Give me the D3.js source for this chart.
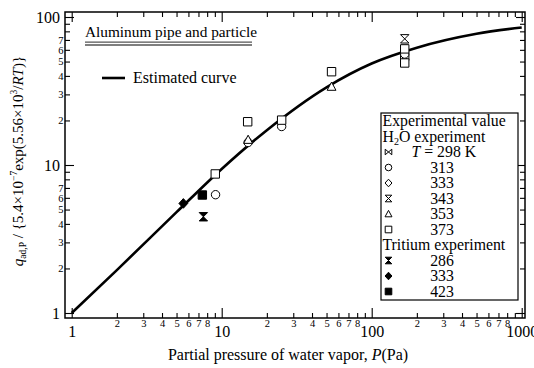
<!DOCTYPE html>
<html>
<head>
<meta charset="utf-8">
<script src="https://cdn.jsdelivr.net/npm/d3@7/dist/d3.min.js"></script>
<style>
  html, body { margin: 0; padding: 0; background: #fff; }
  svg { display: block; }
  svg text { font-family: "Liberation Serif", "DejaVu Serif", serif; fill: #000; }
</style>
</head>
<body>
<svg id="chart" width="534" height="368"></svg>
<script>
// Estimated adsorption curve (partial pressure P in Pa, normalised q)
const curveP = [1, 2, 5, 10, 20, 50, 100, 200, 500, 1000];
const curveQ = [1, 1.95, 4.8, 9.4, 17.2, 33.5, 48.5, 62, 77, 85];

// H2O experiment, aluminum pipe and particle: [P, q]
const h2o298 = [[166, 53.8]];
const h2o313 = [[9.1, 6.3], [15, 14.2], [25.1, 18.2], [166, 56.2]];
const h2o333 = [];
const h2o343 = [[166, 71.2]];
const h2o353 = [[15, 14.8], [54, 33.8]];
const h2o373 = [[9.06, 8.7], [14.9, 19.6], [25.1, 20.1], [54, 42.7], [166, 60.9], [166, 48.9]];

// Tritium experiment: [P, q]
const tri286 = [[7.55, 4.47]];
const tri333 = [[5.55, 5.5]];
const tri423 = [[7.43, 6.27]];

// Axis ticks
const xMajor = [1, 10, 100, 1000];
const yMajor = [1, 10, 100];
const xMinorLabels = [2, 3, 4, 5, 6, 7, 8];
const yMinorLabels = [2, 3, 4, 5, 6, 7];

const series = [
  { label: "298 K", sym: "bowtie", fill: false, pts: h2o298 },
  { label: "313", sym: "circle", fill: false, pts: h2o313 },
  { label: "333", sym: "diamond", fill: false, pts: h2o333 },
  { label: "343", sym: "hourglass", fill: false, pts: h2o343 },
  { label: "353", sym: "triangle", fill: false, pts: h2o353 },
  { label: "373", sym: "square", fill: false, pts: h2o373 },
  { label: "286", sym: "hourglass", fill: true, pts: tri286 },
  { label: "333", sym: "diamond", fill: true, pts: tri333 },
  { label: "423", sym: "square", fill: true, pts: tri423 }
];

const FONT = "Liberation Serif, DejaVu Serif, serif";
const svg = d3.select("#chart");
const frame = { left: 65, right: 525, top: 12, bottom: 318 };

const x = d3.scaleLog().domain([1, 1000]).range([71.7, 521.7]);
const y = d3.scaleLog().domain([1, 100]).range([313, 17]);

// minor tick values for each decade
function minors(lo, hi) {
  const out = [];
  for (let d = lo; d < hi; d *= 10) for (let k = 2; k <= 9; k++) out.push(k * d);
  return out;
}
const xMinor = minors(1, 1000);
const yMinor = minors(1, 100);
const lead = v => +String(v)[0];

// symbol path generator, s = half width
function symPath(type, s) {
  switch (type) {
    case "square": return `M${-s},${-s}H${s}V${s}H${-s}Z`;
    case "diamond": return `M0,${-s * 1.15}L${s * 1.05},0L0,${s * 1.15}L${-s * 1.05},0Z`;
    case "triangle": return `M0,${-s * 1.1}L${s * 1.05},${s * 0.85}L${-s * 1.05},${s * 0.85}Z`;
    case "hourglass": return `M${-s},${-s}H${s}L${-s},${s}H${s}Z`;
    case "bowtie": return `M${-s},${-s * 0.85}L${s},${s * 0.85}V${-s * 0.85}L${-s},${s * 0.85}Z`;
    case "circle": {
      const p = d3.path(); p.moveTo(s, 0); p.arc(0, 0, s, 0, 2 * Math.PI); p.closePath();
      return p.toString();
    }
  }
}

// ---- axes (ticks point into the plot) ----
function styleAxis(g) {
  g.attr("font-family", FONT);
  g.select(".domain").remove();
  g.selectAll("line").attr("stroke", "#000").attr("stroke-width", 1.1);
  g.selectAll("text").attr("fill", "#000").attr("font-family", FONT);
}

// bottom
svg.append("g").attr("transform", `translate(0,${frame.bottom})`)
  .call(d3.axisBottom(x).tickValues(xMinor).tickSizeInner(-5).tickSizeOuter(0).tickPadding(2)
    .tickFormat(v => xMinorLabels.includes(lead(v)) ? lead(v) : ""))
  .call(styleAxis).call(g => g.selectAll("text").attr("font-size", 10.5));
svg.append("g").attr("transform", `translate(0,${frame.bottom})`)
  .call(d3.axisBottom(x).tickValues(xMajor).tickSizeInner(-10).tickSizeOuter(0).tickPadding(8)
    .tickFormat(d3.format("d")))
  .call(styleAxis).call(g => g.selectAll("text").attr("font-size", 16));

// left
svg.append("g").attr("transform", `translate(${frame.left},0)`)
  .call(d3.axisLeft(y).tickValues(yMinor).tickSizeInner(-5).tickSizeOuter(0).tickPadding(1.5)
    .tickFormat(v => yMinorLabels.includes(lead(v)) ? lead(v) : ""))
  .call(styleAxis).call(g => g.selectAll("text").attr("font-size", 10.5));
svg.append("g").attr("transform", `translate(${frame.left},0)`)
  .call(d3.axisLeft(y).tickValues(yMajor).tickSizeInner(-9).tickSizeOuter(0).tickPadding(5)
    .tickFormat(d3.format("d")))
  .call(styleAxis).call(g => g.selectAll("text").attr("font-size", 16));

// top
svg.append("g").attr("transform", `translate(0,${frame.top})`)
  .call(d3.axisTop(x).tickValues(xMinor).tickSizeInner(-5).tickSizeOuter(0).tickFormat(""))
  .call(styleAxis);
svg.append("g").attr("transform", `translate(0,${frame.top})`)
  .call(d3.axisTop(x).tickValues(xMajor).tickSizeInner(-10).tickSizeOuter(0).tickFormat(""))
  .call(styleAxis);

// right
svg.append("g").attr("transform", `translate(${frame.right},0)`)
  .call(d3.axisRight(y).tickValues(yMinor).tickSizeInner(-5).tickSizeOuter(0).tickFormat(""))
  .call(styleAxis);
svg.append("g").attr("transform", `translate(${frame.right},0)`)
  .call(d3.axisRight(y).tickValues(yMajor).tickSizeInner(-9).tickSizeOuter(0).tickFormat(""))
  .call(styleAxis);

// frame
svg.append("rect")
  .attr("x", frame.left).attr("y", frame.top)
  .attr("width", frame.right - frame.left).attr("height", frame.bottom - frame.top)
  .attr("fill", "none").attr("stroke", "#000").attr("stroke-width", 1.5);

// ---- estimated curve ----
const line = d3.line().x(d => x(d[0])).y(d => y(d[1])).curve(d3.curveMonotoneX);
svg.append("path")
  .datum(curveP.map((p, i) => [p, curveQ[i]]))
  .attr("d", line)
  .attr("fill", "none").attr("stroke", "#000").attr("stroke-width", 2.6);

// ---- data points ----
series.forEach(s => {
  svg.append("g").selectAll("path").data(s.pts).join("path")
    .attr("transform", d => `translate(${x(d[0])},${y(d[1])})`)
    .attr("d", symPath(s.sym, 4.2))
    .attr("fill", s.fill ? "#000" : "#fff")
    .attr("stroke", "#000").attr("stroke-width", 1);
});

// helper for serif text
function txt(parent, xx, yy, size) {
  return parent.append("text").attr("x", xx).attr("y", yy)
    .attr("font-size", size).attr("font-family", FONT);
}

// ---- header text ----
txt(svg, 85, 37, 15.3).text("Aluminum pipe and particle");
[42.2, 45].forEach(yy => svg.append("line")
  .attr("x1", 85).attr("x2", 252).attr("y1", yy).attr("y2", yy)
  .attr("stroke", "#555").attr("stroke-width", 1.3));

svg.append("line").attr("x1", 102).attr("x2", 125).attr("y1", 78).attr("y2", 78)
  .attr("stroke", "#000").attr("stroke-width", 2.6);
txt(svg, 133, 83, 16).text("Estimated curve");

// ---- legend box ----
const lg = svg.append("g");
lg.append("rect").attr("x", 381).attr("y", 113).attr("width", 137).attr("height", 187)
  .attr("fill", "#fff").attr("stroke", "#000").attr("stroke-width", 1.2);
const rowY = i => 121 + i * 15.5;
const fs = 15.8;
txt(lg, 382.5, rowY(0) + 5, fs).text("Experimental value");
const h = txt(lg, 382.5, rowY(1) + 5, fs);
h.append("tspan").text("H");
h.append("tspan").attr("font-size", 10).attr("dy", 3).text("2");
h.append("tspan").attr("dy", -3).text("O experiment");
txt(lg, 382.5, rowY(8) + 5, fs).text("Tritium experiment");

series.forEach((s, i) => {
  const row = i < 6 ? i + 2 : i + 3;
  const cy = rowY(row);
  lg.append("path").attr("transform", `translate(388.5,${cy})`)
    .attr("d", symPath(s.sym, 3.3))
    .attr("fill", s.fill ? "#000" : "#fff").attr("stroke", "#000").attr("stroke-width", 1);
  if (i === 0) {
    const t = txt(lg, 411.5, cy + 5, fs);
    t.append("tspan").attr("font-style", "italic").text("T");
    t.append("tspan").text(" = " + s.label);
  } else {
    txt(lg, 442, cy + 5, fs).attr("text-anchor", "middle").text(s.label);
  }
});

// ---- axis titles ----
const xt = txt(svg, 288, 360, 16).attr("text-anchor", "middle");
xt.append("tspan").text("Partial pressure of water vapor, ");
xt.append("tspan").attr("font-style", "italic").text("P");
xt.append("tspan").text("(Pa)");

const yt = svg.append("text").attr("transform", "translate(23,161) rotate(-90)")
  .attr("font-size", 15).attr("font-family", FONT).attr("text-anchor", "middle");
yt.append("tspan").attr("font-style", "italic").text("q");
yt.append("tspan").attr("font-size", 9.5).attr("dy", 3).text("ad,P");
yt.append("tspan").attr("dy", -3).text(" / {5.4\u00d710");
yt.append("tspan").attr("font-size", 9.5).attr("dy", -6).text("\u22127");
yt.append("tspan").attr("dy", 6).text("exp(5.56\u00d710");
yt.append("tspan").attr("font-size", 9.5).attr("dy", -6).text("3");
yt.append("tspan").attr("dy", 6).text("/");
yt.append("tspan").attr("font-style", "italic").text("RT");
yt.append("tspan").text(")}");
</script>
</body>
</html>
